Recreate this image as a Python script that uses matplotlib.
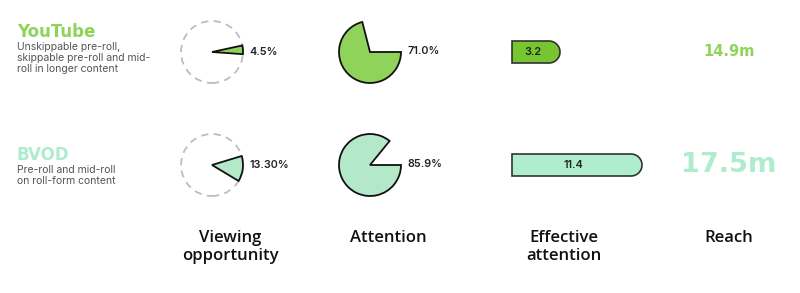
import numpy as np
import matplotlib
matplotlib.use("Agg")
import matplotlib.pyplot as plt
from matplotlib.patches import Wedge, Circle, Polygon

# ---- data ----
platforms = ["YouTube", "BVOD"]
descriptions = ["Unskippable pre-roll,\nskippable pre-roll and mid-\nroll in longer content",
                "Pre-roll and mid-roll\non roll-form content"]
viewing_opportunity = [4.5, 13.30]
viewing_labels = ["4.5%", "13.30%"]
attention = [71.0, 85.9]
attention_labels = ["71.0%", "85.9%"]
effective_attention = [3.2, 11.4]
effective_labels = ["3.2", "11.4"]
reach = [14.9, 17.5]
reach_labels = ["14.9m", "17.5m"]
headers = ["Viewing\nopportunity", "Attention", "Effective\nattention", "Reach"]

# ---- style ----
W, H = 800, 293
row_y = [52, 165]
title_y = [32, 155]
desc_top = [42, 165]
pie_colors = ["#8fd35a", "#b3e8c9"]
bar_colors = ["#76c531", "#aeeecf"]
title_colors = ["#8fd35a", "#aeeccd"]
reach_sizes = [10.5, 19.5]
vo_start = [-4, -31]

fig = plt.figure(figsize=(W / 100, H / 100), dpi=100)
ax = fig.add_axes([0, 0, 1, 1])
ax.set_xlim(0, W)
ax.set_ylim(0, H)
ax.axis("off")


def Y(y):
    return H - y


heavy = dict(family=["DejaVu Sans"], fontweight="bold")
med = dict(family=["Inter", "DejaVu Sans"])
hdr = dict(family=["Open Sans", "DejaVu Sans"])

for i, name in enumerate(platforms):
    cy = Y(row_y[i])
    # left labels
    ax.text(17, Y(title_y[i]), name, ha="left", va="center", fontsize=12,
            color=title_colors[i], **heavy)
    ax.text(17, Y(desc_top[i]), descriptions[i], ha="left", va="top", fontsize=7.5,
            color="#555555", linespacing=1.12, **med)

    # viewing opportunity
    cx, r = 212, 31
    ax.add_patch(Circle((cx, cy), r, fill=False, ec="#bdbdbd", lw=1.3, ls=(0, (4, 3))))
    a1 = vo_start[i]
    a2 = a1 + 360 * viewing_opportunity[i] / 100
    ax.add_patch(Wedge((cx, cy), r, a1, a2, fc=pie_colors[i], ec="#111111", lw=1.3))
    ax.text(cx + r + 6, cy, viewing_labels[i], ha="left", va="center", fontsize=7.8,
            color="#222222", fontweight="semibold", **med)

    # attention
    cx2 = 370
    t1 = 360 * (1 - attention[i] / 100)
    ax.add_patch(Wedge((cx2, cy), r, t1, 360, fc=pie_colors[i], ec="#111111", lw=1.3))
    ax.text(cx2 + r + 6, cy + 1, attention_labels[i], ha="left", va="center", fontsize=7.8,
            color="#222222", fontweight="semibold", **med)

    # effective attention bar with rounded right end
    x0, h = 512, 22
    length = 16 + 10 * effective_attention[i]
    x1 = x0 + length
    rr = h / 2
    ang = np.linspace(-np.pi / 2, np.pi / 2, 40)
    arc = np.column_stack([x1 - rr + rr * np.cos(ang), cy + rr * np.sin(ang)])
    verts = np.vstack([[x0, cy - rr], arc, [x0, cy + rr]])
    ax.add_patch(Polygon(verts, closed=True, fc=bar_colors[i], ec="#333333", lw=1.2))
    ax.text((x0 + x1 - rr) / 2 + 2, cy, effective_labels[i], ha="center", va="center",
            fontsize=7.8, color="#222222", fontweight="semibold", **med)

    # reach
    ax.text(729, cy, reach_labels[i], ha="center", va="center", fontsize=reach_sizes[i],
            color=title_colors[i], **heavy)

header_x = [230, 388, 564, 729]
for hx, txt in zip(header_x, headers):
    ax.text(hx, Y(230), txt, ha="center", va="top", fontsize=12, color="#111111",
            fontweight="semibold", linespacing=1.2, **hdr)

fig.savefig("out.png", dpi=100)
